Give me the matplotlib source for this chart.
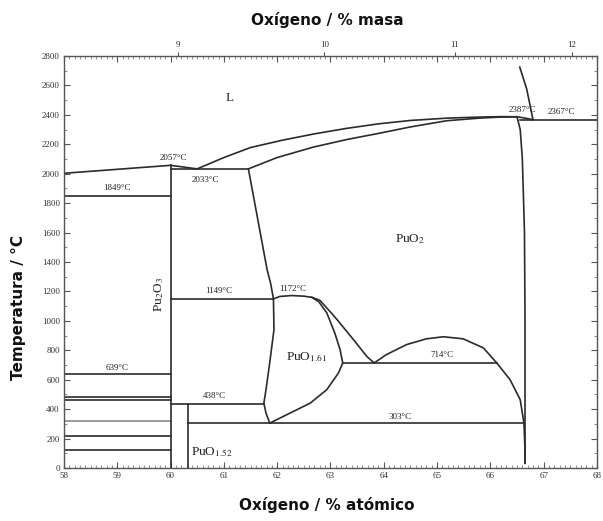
import numpy as np
import matplotlib
matplotlib.use("Agg")
import matplotlib.pyplot as plt
from matplotlib.ticker import MultipleLocator, FixedLocator

plt.rcParams['mathtext.fontset'] = 'stix'

# ---- Pu-O phase boundaries (x: at.% O, y: temperature in degC) ----
liq_left_x = [58.0, 60.0]
liq_left_t = [2003, 2057]
liq_dip_x = [60.0, 60.5]
liq_dip_t = [2057, 2033]

liquidus_x = [60.5, 61.0, 61.5, 62.1, 62.7, 63.3, 63.9, 64.5, 65.2, 65.8, 66.2, 66.5]
liquidus_t = [2033, 2110, 2178, 2228, 2271, 2308, 2339, 2362, 2378, 2385, 2388, 2387]

solidus_x = [61.46, 62.0, 62.68, 63.3, 63.93, 64.5, 65.18, 65.8, 66.2, 66.5]
solidus_t = [2033, 2110, 2181, 2232, 2276, 2318, 2360, 2378, 2385, 2387]

liq_right_x = [66.5, 66.65, 66.8]
liq_right_t = [2387, 2378, 2367]

gap_x = [66.8, 66.77, 66.68, 66.55]
gap_t = [2367, 2420, 2578, 2726]

puo2_right_x = [66.5, 66.56, 66.6, 66.64, 66.65, 66.65, 66.65]
puo2_right_t = [2387, 2300, 2100, 1600, 1000, 303, 30]

puo2x_left_x = [61.46, 61.81, 61.88, 61.93]
puo2x_left_t = [2033, 1350, 1250, 1149]

arc_x = [61.93, 62.05, 62.27, 62.5, 62.65]
arc_t = [1149, 1166, 1172, 1168, 1160]

inner_x = [62.65, 62.78, 62.93, 63.08, 63.18, 63.23]
inner_t = [1160, 1130, 1055, 919, 805, 714]

outer_x = [62.65, 62.8, 63.0, 63.12, 63.43, 63.68, 63.82]
outer_t = [1160, 1140, 1060, 1010, 873, 759, 714]

p161_left_x = [61.93, 61.94, 61.86, 61.79, 61.75, 61.79, 61.86]
p161_left_t = [1149, 941, 714, 532, 441, 373, 305]

p161_low_x = [61.86, 62.24, 62.62, 62.93, 63.15, 63.23]
p161_low_t = [305, 373, 441, 532, 646, 714]

dome_x = [63.82, 64.05, 64.43, 64.80, 65.12, 65.49, 65.87, 66.12, 66.37, 66.56, 66.63, 66.65, 66.65]
dome_t = [714, 771, 839, 878, 892, 878, 816, 714, 600, 464, 305, 123, 34]

# isotherms: (temperature, x start, x end)
iso_t = [1849, 639, 483, 463, 215, 125, 2033, 1149, 714, 438, 303, 2367]
iso_x0 = [58.0, 58.0, 58.0, 58.0, 58.0, 58.0, 60.0, 60.0, 63.23, 60.0, 60.33, 66.55]
iso_x1 = [60.0, 60.0, 60.0, 60.0, 60.0, 60.0, 61.46, 61.93, 66.12, 61.75, 66.63, 68.0]
iso_light_t = 320

# vertical compound lines: (x, T top)
vert_x = [60.0, 60.33]
vert_top = [2057, 438]

# temperature annotations
temp_labels = ["2057°C", "2033°C", "1849°C", "1149°C", "1172°C", "639°C",
               "438°C", "714°C", "303°C", "2387°C", "2367°C"]
temp_lx = [60.05, 60.65, 59.0, 60.9, 62.3, 59.0, 60.83, 65.1, 64.3, 66.6, 67.33]
temp_ly = [2105, 1960, 1905, 1200, 1215, 683, 487, 765, 350, 2430, 2418]

# phase labels
phase_labels = ["L", r"PuO$_2$", r"Pu$_2$O$_3$", r"PuO$_{1.61}$", r"PuO$_{1.52}$"]
phase_lx = [61.1, 64.5, 59.78, 62.55, 60.78]
phase_ly = [2517, 1555, 1180, 757, 109]
phase_rot = [0, 0, 90, 0, 0]

x_ticks = list(range(58, 69))
t_ticks = list(range(0, 2801, 200))
wt_ticks = [9, 10, 11, 12]

M_PU, M_O = 244.0, 16.0


def at_to_wt(x):
    f = np.asarray(x, dtype=float) / 100.0
    return 100.0 * M_O * f / (M_O * f + M_PU * (1.0 - f))


def wt_to_at(w):
    w = np.asarray(w, dtype=float) / 100.0
    return 100.0 * M_PU * w / (M_O + (M_PU - M_O) * w)


line_c = '#2b2b2b'
lw = 1.2

fig = plt.figure(figsize=(6.03, 5.21), dpi=100)
ax = fig.add_axes([0.1061, 0.1017, 0.8839, 0.7908])
ax.set_xlim(58, 68)
ax.set_ylim(0, 2800)

curves = [(liq_left_x, liq_left_t), (liq_dip_x, liq_dip_t), (liquidus_x, liquidus_t),
          (solidus_x, solidus_t), (liq_right_x, liq_right_t), (gap_x, gap_t),
          (puo2_right_x, puo2_right_t), (puo2x_left_x, puo2x_left_t), (arc_x, arc_t),
          (inner_x, inner_t), (outer_x, outer_t), (p161_left_x, p161_left_t),
          (p161_low_x, p161_low_t), (dome_x, dome_t)]
for cx, ct in curves:
    ax.plot(cx, ct, color=line_c, lw=lw, solid_capstyle='round', solid_joinstyle='round')

for t, x0, x1 in zip(iso_t, iso_x0, iso_x1):
    ax.plot([x0, x1], [t, t], color=line_c, lw=lw)
ax.plot([58, 60], [iso_light_t, iso_light_t], color='#8a8a8a', lw=lw)

for x, top in zip(vert_x, vert_top):
    ax.plot([x, x], [0, top], color=line_c, lw=lw)

serif = 'Liberation Serif'
for s, x, y in zip(temp_labels, temp_lx, temp_ly):
    ax.text(x, y, s, ha='center', va='center', fontsize=6.5, family=serif, color='#222222')

for s, x, y, r in zip(phase_labels, phase_lx, phase_ly, phase_rot):
    ax.text(x, y, s, ha='center', va='center', fontsize=9.5, family=serif,
            rotation=r, color='#222222')

# axes and ticks
ax.set_xticks(x_ticks)
ax.set_yticks(t_ticks)
ax.xaxis.set_minor_locator(MultipleLocator(0.1))
ax.yaxis.set_minor_locator(MultipleLocator(100))
ax.tick_params(which='major', direction='in', length=4, width=0.8, top=True, right=True,
               labeltop=False, labelsize=6.5, color='#555555', pad=3)
ax.tick_params(which='minor', direction='in', length=2, width=0.6, top=True, right=True,
               color='#777777')
for lab in ax.get_xticklabels() + ax.get_yticklabels():
    lab.set_family(serif)
    lab.set_color('#333333')
for sp in ax.spines.values():
    sp.set_color('#555555')
    sp.set_linewidth(1.0)

sec = ax.secondary_xaxis('top', functions=(at_to_wt, wt_to_at))
sec.xaxis.set_major_locator(FixedLocator(wt_ticks))
sec.tick_params(direction='out', length=3, width=0.8, labelsize=6.5, pad=2, color='#555555')
for lab in sec.get_xticklabels():
    lab.set_family(serif)
    lab.set_color('#333333')
sec.spines['top'].set_visible(False)

label_kw = dict(fontsize=11, fontweight='bold', family='DejaVu Sans', color='#111111')
fig.text(0.542, 0.962, 'Oxígeno / % masa', ha='center', va='center', **label_kw)
fig.text(0.542, 0.030, 'Oxígeno / % atómico', ha='center', va='center', **label_kw)
fig.text(0.030, 0.41, 'Temperatura / °C', ha='center', va='center', rotation=90, **label_kw)

fig.savefig('out.png', dpi=100)
